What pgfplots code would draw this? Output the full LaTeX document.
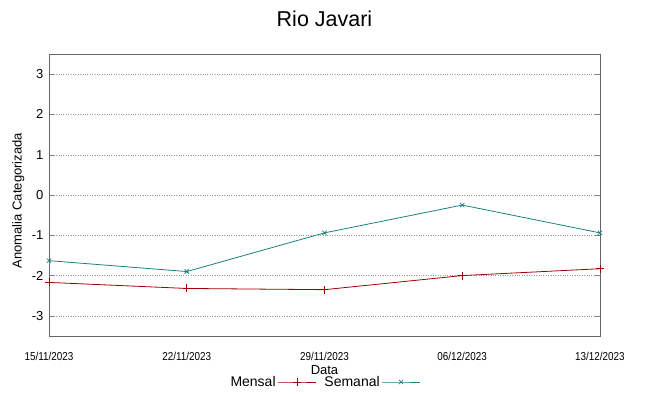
\documentclass[border=0pt]{standalone}
\usepackage{pgfplots}
\pgfplotsset{compat=1.18}
\usepackage{fontspec}
\setmainfont{Liberation Sans}
\definecolor{mred}{HTML}{A00000}
\definecolor{steal}{HTML}{1A8080}
\begin{document}
\begin{tikzpicture}[x=1pt,y=1pt]
\useasboundingbox (-49,-60) rectangle (600,336);
\begin{axis}[
  at={(0,0)}, anchor=south west,
  scale only axis, width=551pt, height=282pt,
  xmin=0, xmax=4, ymin=-3.5, ymax=3.5,
  xtick={0,1,2,3,4},
  xticklabels={15/11/2023,22/11/2023,29/11/2023,06/12/2023,13/12/2023},
  ytick={-3,-2,-1,0,1,2,3},
  /pgf/number format/assume math mode=true,
  x tick label style={font=\fontsize{11.5}{13}\selectfont, xscale=0.86, yshift=-13pt},
  y tick label style={font=\fontsize{13}{15}\selectfont, xshift=-2pt},
  tick align=inside, major tick length=5pt,
  xtick style={draw=none},
  ytick pos=both,
  ymajorgrids, major grid style={dotted, gray!80},
  axis line style={black!60, line width=0.8pt},
  title={Rio Javari},
  title style={font=\fontsize{21.5}{24}\selectfont, at={(axis description cs:0.5,1)}, anchor=center, yshift=29pt},
  xlabel={Data},
  xlabel style={font=\fontsize{13}{15}\selectfont, at={(axis description cs:0.5,0)}, anchor=center, yshift=-34pt},
  ylabel={Anomalia Categorizada},
  ylabel style={font=\fontsize{13}{15}\selectfont, at={(axis description cs:-0.056,0.48)}, anchor=center},
  legend columns=2,
  legend plot pos=right,
  legend style={draw=none, fill=none, at={(axis description cs:0.5,0)}, anchor=center, yshift=-46pt, font=\fontsize{14}{16}\selectfont, /tikz/every even column/.append style={column sep=6pt}},
  legend image code/.code={\draw[mark repeat=2,mark phase=2] plot coordinates {(0pt,0pt) (19pt,0pt) (38pt,0pt)};},
]
\addplot[color=mred, line width=0.8pt, mark=+, mark size=4pt] coordinates {
 (0,-2.17) (1,-2.32) (2,-2.35) (3,-2.0) (4,-1.83)};
\addlegendentry{Mensal}
\addplot[color=steal, line width=0.8pt, mark=x, mark size=3pt] coordinates {
 (0,-1.63) (1,-1.9) (2,-0.94) (3,-0.25) (4,-0.94)};
\addlegendentry{Semanal}
\end{axis}
\end{tikzpicture}
\end{document}
